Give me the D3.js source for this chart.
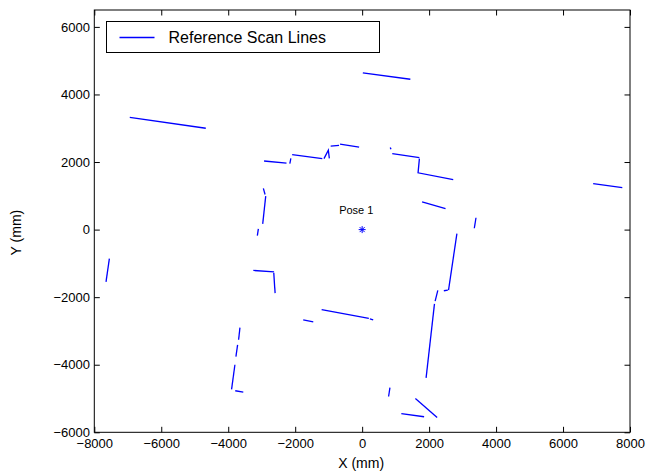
<!DOCTYPE html>
<html>
<head>
<meta charset="utf-8">
<script src="https://cdn.jsdelivr.net/npm/d3@7"></script>
<style>
  body { margin: 0; background: #fff; }
  text { font-family: 'Liberation Sans', Arial, sans-serif; fill: #000; }
</style>
</head>
<body>
<div id="chart"></div>
<script>
// scan lines, each one a polyline of [x, y] in mm
let farLines = [
  [[-6940, 3320], [-4670, 3000]],
  [[20, 4640], [1440, 4450]],
  [[6900, 1360], [7770, 1240]],
  [[-7550, -860], [-7650, -1550]]
]

let northWall = [
  [[-2930, 2030], [-2260, 1970]],
  [[-2160, 1950], [-2130, 2110]],
  [[-2090, 2220], [-1190, 2100]],
  [[-1140, 2100], [-1010, 2350], [-980, 2110]],
  [[-940, 2470], [-690, 2490]],
  [[-660, 2530], [-90, 2440]],
  [[840, 2430], [860, 2380]],
  [[900, 2250], [1710, 2130]],
  [[1710, 2100], [1670, 1680], [2720, 1480]],
  [[1790, 820], [2490, 620]]
]

let westWall = [
  [[-2950, 1220], [-2900, 1040]],
  [[-2880, 990], [-2970, 170]],
  [[-3100, 20], [-3130, -180]],
  [[-3250, -1210], [-2630, -1250]],
  [[-2640, -1280], [-2600, -1880]],
  [[-3650, -2900], [-3690, -3260]],
  [[-3720, -3410], [-3770, -3760]],
  [[-3800, -4000], [-3900, -4730]],
  [[-3790, -4770], [-3550, -4810]]
]

let eastWall = [
  [[3400, 350], [3350, 40]],
  [[2830, -120], [2580, -1790]],
  [[2440, -1810], [2560, -1790]],
  [[2260, -1800], [2180, -2120]],
  [[2160, -2200], [1910, -4390]]
]

let southWall = [
  [[-1210, -2370], [200, -2630]],
  [[230, -2640], [330, -2670]],
  [[-1760, -2670], [-1460, -2730]],
  [[830, -4680], [790, -4940]],
  [[1590, -5000], [2240, -5560]],
  [[1170, -5450], [1850, -5540]]
]

let poses = [{ name: 'Pose 1', x: 0, y: 0 }]

let xTicks = [-8000, -6000, -4000, -2000, 0, 2000, 4000, 6000, 8000]
let yTicks = [-6000, -4000, -2000, 0, 2000, 4000, 6000]

let legendLabel = 'Reference Scan Lines'

let margin = { top: 10, left: 94.3, right: 17, bottom: 40.7 }
let width = 647 - margin.left - margin.right
let height = 473 - margin.top - margin.bottom

let svg = d3
  .select('#chart')
  .append('svg')
  .attr('width', 647)
  .attr('height', 473)

let holder = svg
  .append('g')
  .attr('transform', `translate(${margin.left},${margin.top})`)

let xScale = d3.scaleLinear().domain([-8000, 8000]).range([0, width])
let yScale = d3.scaleLinear().domain([-6000, 6500]).range([height, 0])

let line = d3
  .line()
  .x(d => xScale(d[0]))
  .y(d => yScale(d[1]))

let allLines = farLines.concat(northWall, westWall, eastWall, southWall)

holder
  .selectAll('.scan-line')
  .data(allLines)
  .enter()
  .append('path')
  .attr('class', 'scan-line')
  .attr('d', line)
  .attr('fill', 'none')
  .attr('stroke', '#0000ff')
  .attr('stroke-width', 1.3)

// pose marker, a matlab style asterisk
let star = 'M-3.5,0L3.5,0M0,-3.5L0,3.5M-2.5,-2.5L2.5,2.5M-2.5,2.5L2.5,-2.5'

holder
  .selectAll('.pose')
  .data(poses)
  .enter()
  .append('path')
  .attr('class', 'pose')
  .attr('d', star)
  .attr('transform', d => `translate(${xScale(d.x)},${yScale(d.y)})`)
  .attr('stroke', '#0000ff')
  .attr('stroke-width', 1)

holder
  .selectAll('.pose-label')
  .data(poses)
  .enter()
  .append('text')
  .attr('class', 'pose-label')
  .attr('x', d => xScale(d.x) - 23)
  .attr('y', d => yScale(d.y) - 16)
  .attr('font-size', 11)
  .attr('fill', '#222')
  .text(d => d.name)

// axes, ticks pointing inward on all four sides
let fmt = d3.format('d')

let xAxis = holder
  .append('g')
  .attr('transform', `translate(0,${height})`)
  .call(
    d3.axisBottom(xScale)
      .tickValues(xTicks)
      .tickFormat(fmt)
      .tickSizeInner(-5.5)
      .tickSizeOuter(0)
      .tickPadding(6.5)
  )

let yAxis = holder
  .append('g')
  .call(
    d3.axisLeft(yScale)
      .tickValues(yTicks)
      .tickFormat(fmt)
      .tickSizeInner(-5.5)
      .tickSizeOuter(0)
      .tickPadding(4.3)
  )

holder
  .append('g')
  .call(
    d3.axisTop(xScale)
      .tickValues(xTicks)
      .tickFormat('')
      .tickSizeInner(-5.5)
      .tickSizeOuter(0)
  )

holder
  .append('g')
  .attr('transform', `translate(${width},0)`)
  .call(
    d3.axisRight(yScale)
      .tickValues(yTicks)
      .tickFormat('')
      .tickSizeInner(-5.5)
      .tickSizeOuter(0)
  )

holder.selectAll('.domain').remove()
holder.selectAll('.tick line').attr('stroke', '#000')
holder
  .selectAll('.tick text')
  .attr('font-size', 13)
  .attr('font-family', "'Liberation Sans', Arial, sans-serif")
  .attr('fill', '#000')

holder
  .append('rect')
  .attr('width', width)
  .attr('height', height)
  .attr('fill', 'none')
  .attr('stroke', '#000')
  .attr('stroke-width', 1)

svg
  .append('text')
  .attr('x', margin.left + xScale(0) - 1)
  .attr('y', 467.5)
  .attr('text-anchor', 'middle')
  .attr('font-size', 14)
  .text('X (mm)')

svg
  .append('text')
  .attr('transform', `translate(21,${margin.top + yScale(0) + 3}) rotate(-90)`)
  .attr('text-anchor', 'middle')
  .attr('font-size', 14)
  .text('Y (mm)')

// legend
let legend = svg.append('g').attr('transform', 'translate(106.5,21.5)')

legend
  .append('rect')
  .attr('width', 273)
  .attr('height', 31)
  .attr('fill', '#fff')
  .attr('stroke', '#000')
  .attr('stroke-width', 1)

legend
  .append('line')
  .attr('x1', 13)
  .attr('x2', 48)
  .attr('y1', 16)
  .attr('y2', 16)
  .attr('stroke', '#0000ff')
  .attr('stroke-width', 1.3)

legend
  .append('text')
  .attr('x', 62)
  .attr('y', 21.5)
  .attr('font-size', 16)
  .text(legendLabel)
</script>
</body>
</html>
